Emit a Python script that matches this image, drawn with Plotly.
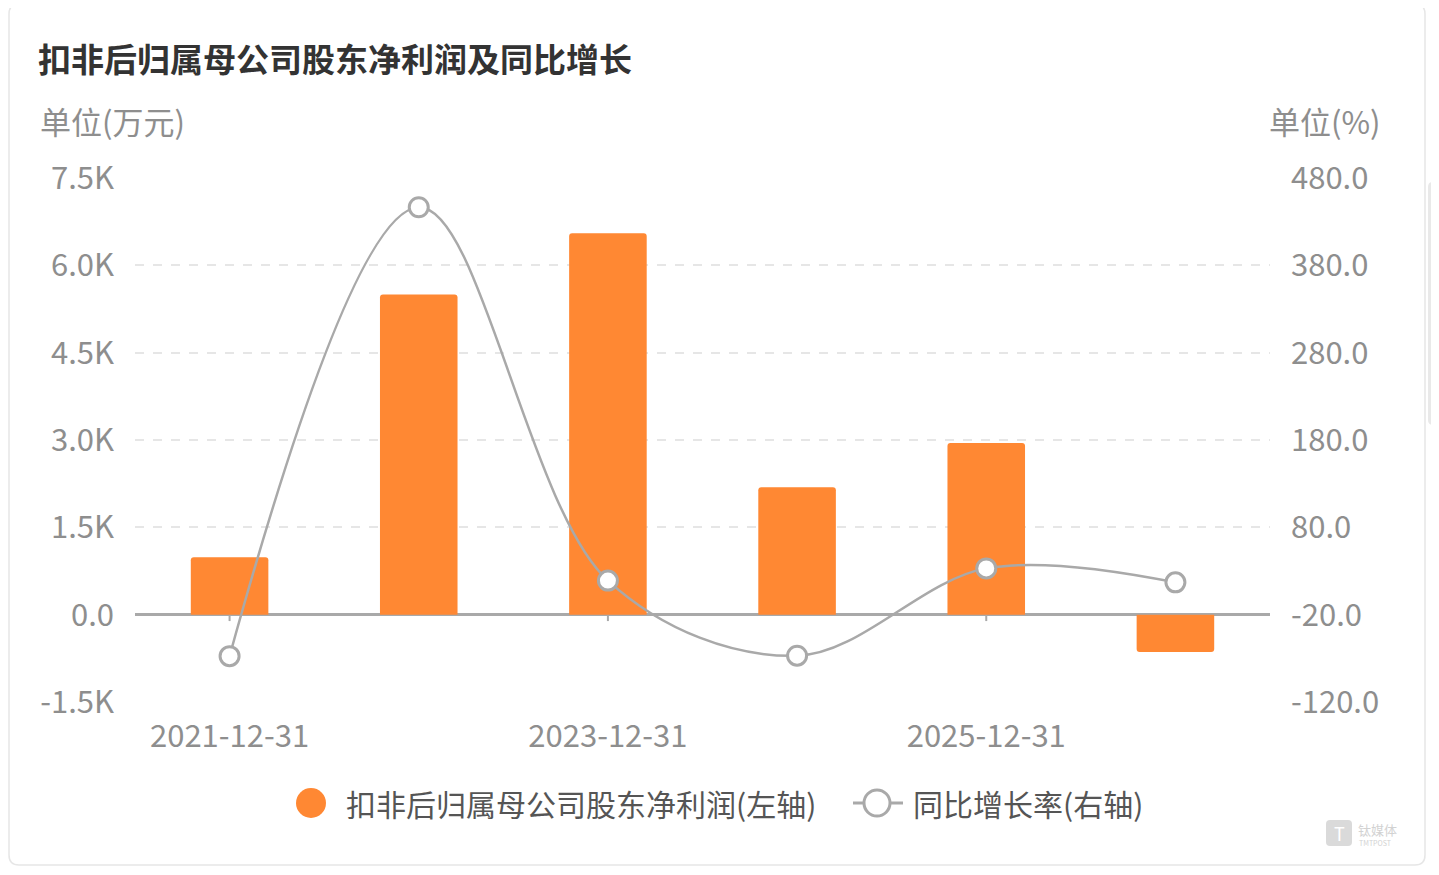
import plotly.graph_objects as go

# ---------------- data ----------------
categories = ["2021-12-31", "2022-12-31", "2023-12-31", "2024-12-31", "2025-12-31", "2026-12-31"]
profit = [985, 5500, 6550, 2190, 2950, -640]          # 万元, left axis
growth = [-67.5, 446.5, 19.0, -67.0, 33.0, 17.0]       # %, right axis
left_ticks = [-1500, 0, 1500, 3000, 4500, 6000, 7500]
left_ticktext = ["-1.5K", "0.0", "1.5K", "3.0K", "4.5K", "6.0K", "7.5K"]
right_ticks = [-120, -20, 80, 180, 280, 380, 480]
right_ticktext = [f"{v:.1f}" for v in right_ticks]
shown_dates = categories[::2]

title_text = "扣非后归属母公司股东净利润及同比增长"
bar_name = "扣非后归属母公司股东净利润(左轴)"
line_name = "同比增长率(右轴)"
left_unit = "单位(万元)"
right_unit = "单位(%)"

# ---------------- layout helpers ----------------
# the page body has an 8px default margin, so the figure sits at (8, 8) in the window
OFF = 8
PAGE_W, PAGE_H = 1439, 875
W, H = PAGE_W - OFF, PAGE_H - OFF
# plot area in page pixels
L, R, T, B = 135, 1270, 178, 702
FONT = "Noto Sans CJK SC, Microsoft YaHei, sans-serif"
ORANGE = "#FF8833"
GREY = "#A9A9A9"
TICK_COLOR = "#8E8E8E"
TXT = 31
LEG = 30


def px(x):
    return (x - L) / (R - L)


def py(y):
    return (B - y) / (B - T)


def rounded_rect(x0, y0, x1, y1, r):
    rx = r / (R - L)
    ry = r / (B - T)
    a, b, c, d = px(x0), px(x1), py(y1), py(y0)  # left, right, bottom, top
    return (f"M {a+rx},{d} L {b-rx},{d} Q {b},{d} {b},{d-ry} L {b},{c+ry} Q {b},{c} {b-rx},{c} "
            f"L {a+rx},{c} Q {a},{c} {a},{c+ry} L {a},{d-ry} Q {a},{d} {a+rx},{d} Z")


fig = go.Figure()

fig.add_trace(go.Bar(
    x=categories, y=profit, name=bar_name, yaxis="y",
    marker=dict(color=ORANGE, cornerradius=3, line=dict(width=0)),
    showlegend=False,
))

fig.add_trace(go.Scatter(
    x=categories, y=growth, name=line_name, yaxis="y2",
    mode="lines+markers",
    line=dict(color=GREY, width=2.5, shape="spline", smoothing=1.0),
    marker=dict(size=19, color="white", line=dict(color=GREY, width=3)),
    showlegend=False,
))

shapes = []
# card border
shapes.append(dict(type="path", xref="paper", yref="paper",
                   path=rounded_rect(9, 4, 1425, 865, 10),
                   line=dict(color="#E6E6E6", width=1.5), fillcolor="rgba(0,0,0,0)", layer="below"))
# scrollbar
shapes.append(dict(type="path", xref="paper", yref="paper",
                   path=rounded_rect(1428, 182, 1442, 425, 5),
                   line=dict(width=0), fillcolor="#E9E9E9", layer="below"))
# tick marks on zero line
for c in shown_dates:
    shapes.append(dict(type="line", xref="x", yref="y", x0=c, x1=c, y0=0, y1=-110,
                       line=dict(color=GREY, width=2), layer="below"))
# manual legend symbols
shapes.append(dict(type="circle", xref="paper", yref="paper",
                   x0=px(296), x1=px(326), y0=py(818), y1=py(788),
                   fillcolor=ORANGE, line=dict(width=0)))
shapes.append(dict(type="line", xref="paper", yref="paper",
                   x0=px(853), x1=px(903), y0=py(803), y1=py(803),
                   line=dict(color=GREY, width=3)))
shapes.append(dict(type="circle", xref="paper", yref="paper",
                   x0=px(864), x1=px(890), y0=py(816), y1=py(790),
                   fillcolor="white", line=dict(color=GREY, width=3)))
# watermark logo square
shapes.append(dict(type="path", xref="paper", yref="paper",
                   path=rounded_rect(1326, 820, 1352, 846, 4),
                   line=dict(width=0), fillcolor="#DADADA"))

annotations = [
    dict(text=left_unit, xref="paper", yref="paper", x=px(38), y=py(120),
         xanchor="left", yanchor="middle", showarrow=False,
         font=dict(size=TXT, color=TICK_COLOR, family=FONT)),
    dict(text=right_unit, xref="paper", yref="paper", x=px(1383), y=py(120),
         xanchor="right", yanchor="middle", showarrow=False,
         font=dict(size=TXT, color=TICK_COLOR, family=FONT)),
    dict(text=bar_name, xref="paper", yref="paper", x=px(344), y=py(803),
         xanchor="left", yanchor="middle", showarrow=False,
         font=dict(size=LEG, color="#555555", family=FONT)),
    dict(text=line_name, xref="paper", yref="paper", x=px(911), y=py(803),
         xanchor="left", yanchor="middle", showarrow=False,
         font=dict(size=LEG, color="#555555", family=FONT)),
    dict(text="T", xref="paper", yref="paper", x=px(1339), y=py(833),
         xanchor="center", yanchor="middle", showarrow=False,
         font=dict(size=18, color="white", family=FONT)),
    dict(text="钛媒体", xref="paper", yref="paper", x=px(1356), y=py(829),
         xanchor="left", yanchor="middle", showarrow=False,
         font=dict(size=13, color="#D2D2D2", family=FONT)),
    dict(text="TMTPOST", xref="paper", yref="paper", x=px(1357), y=py(843),
         xanchor="left", yanchor="middle", showarrow=False,
         font=dict(size=7, color="#D2D2D2", family=FONT)),
]

fig.update_layout(
    width=W, height=H,
    margin=dict(l=L - OFF, r=PAGE_W - R, t=T - OFF, b=PAGE_H - B, autoexpand=False),
    paper_bgcolor="white", plot_bgcolor="white",
    font=dict(family=FONT, color=TICK_COLOR),
    title=dict(text=f"<b>{title_text}</b>", xref="container", yref="container",
               x=(38 - OFF) / W, y=1 - (60 - OFF) / H, xanchor="left", yanchor="middle",
               font=dict(size=33, color="#333333", family=FONT)),
    bargap=0.59,
    showlegend=False,
    xaxis=dict(type="category", categoryorder="array", categoryarray=categories,
               tickmode="array", tickvals=shown_dates, ticktext=shown_dates,
               showgrid=False, showline=False, zeroline=False, ticks="",
               ticklabelstandoff=13,
               tickfont=dict(size=TXT, color=TICK_COLOR, family=FONT)),
    yaxis=dict(range=[-1500, 7500], tickmode="array", tickvals=left_ticks, ticktext=left_ticktext,
               showgrid=True, gridcolor="#E6E6E6", gridwidth=1.5, griddash="dash",
               zeroline=True, zerolinecolor=GREY, zerolinewidth=2.5,
               showline=False, ticks="", ticklabelstandoff=20,
               tickfont=dict(size=TXT, color=TICK_COLOR, family=FONT)),
    yaxis2=dict(range=[-120, 480], overlaying="y", side="right",
                tickmode="array", tickvals=right_ticks, ticktext=right_ticktext,
                showgrid=False, zeroline=False, showline=False, ticks="",
                ticklabelstandoff=20,
                tickfont=dict(size=TXT, color=TICK_COLOR, family=FONT)),
    shapes=shapes,
    annotations=annotations,
)

fig.write_html("out.html")
